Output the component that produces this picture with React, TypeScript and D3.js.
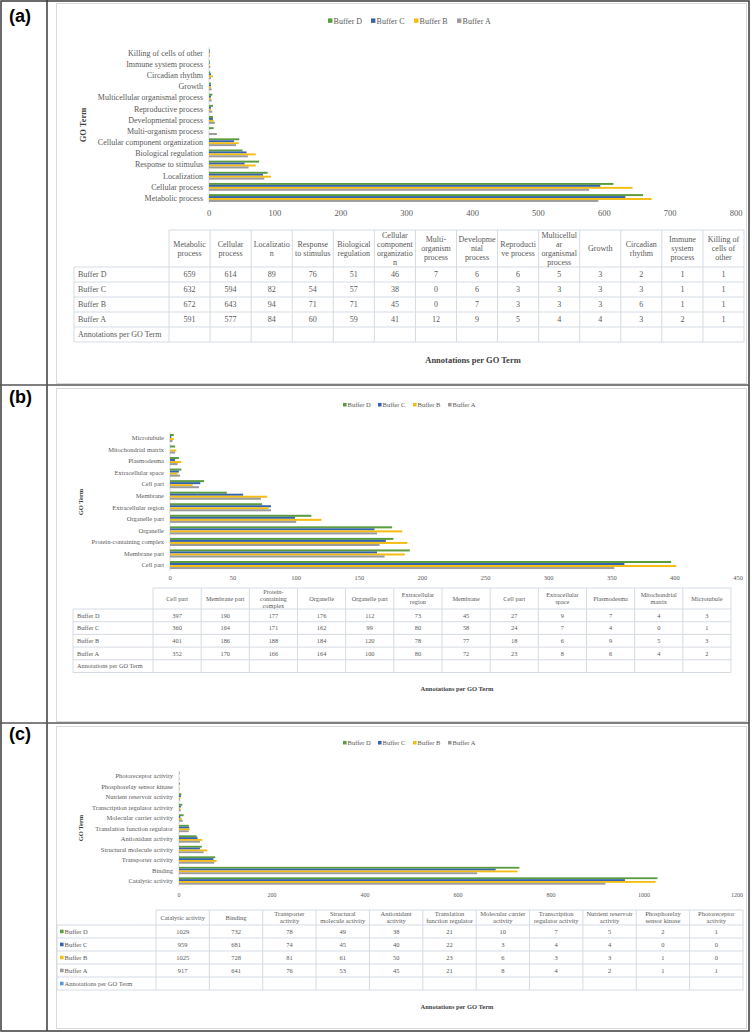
import React from "react";
import * as d3 from "d3";

// ---------- data ----------
const seriesNames = ["Buffer D", "Buffer C", "Buffer B", "Buffer A"];
const seriesColors = ["#5a9c3f", "#3563ad", "#f3bd16", "#9b9b9b"];
const emptyRowLabel = "Annotations per GO Term";
const emptyRowColor = "#5b9bd5";
const axisTitleX = "Annotations per GO Term";
const axisTitleY = "GO Term";
const panelLabels = ["(a)", "(b)", "(c)"];

// (a) Biological process
const bioCategories = [
  "Metabolic process", "Cellular process", "Localization", "Response to stimulus",
  "Biological regulation", "Cellular component organization", "Multi-organism process",
  "Developmental process", "Reproductive process", "Multicellular organismal process",
  "Growth", "Circadian rhythm", "Immune system process", "Killing of cells of other",
];
const bioBufferD = [659, 614, 89, 76, 51, 46, 7, 6, 6, 5, 3, 2, 1, 1];
const bioBufferC = [632, 594, 82, 54, 57, 38, 0, 6, 3, 3, 3, 3, 1, 1];
const bioBufferB = [672, 643, 94, 71, 71, 45, 0, 7, 3, 3, 3, 6, 1, 1];
const bioBufferA = [591, 577, 84, 60, 59, 41, 12, 9, 5, 4, 4, 3, 2, 1];
const bioTicks = [0, 100, 200, 300, 400, 500, 600, 700, 800];

// (b) Cellular component
const cellCategories = [
  "Cell part", "Membrane part", "Protein-containing complex", "Organelle", "Organelle part",
  "Extracellular region", "Membrane", "Cell part", "Extracellular space", "Plasmodesma",
  "Mitochondrial matrix", "Microtubule",
];
const cellBufferD = [397, 190, 177, 176, 112, 73, 45, 27, 9, 7, 4, 3];
const cellBufferC = [360, 164, 171, 162, 99, 80, 58, 24, 7, 4, 0, 1];
const cellBufferB = [401, 186, 188, 184, 120, 78, 77, 18, 6, 9, 5, 3];
const cellBufferA = [352, 170, 166, 164, 100, 80, 72, 23, 8, 6, 4, 2];
const cellTicks = [0, 50, 100, 150, 200, 250, 300, 350, 400, 450];

// (c) Molecular function
const molCategories = [
  "Catalytic activity", "Binding", "Transporter activity", "Structural molecule activity",
  "Antioxidant activity", "Translation function regulator", "Molecular carrier activity",
  "Transcription regulator activity", "Nutrient reservoir activity",
  "Phosphorelay sensor kinase", "Photoreceptor activity",
];
const molBufferD = [1029, 732, 78, 49, 38, 21, 10, 7, 5, 2, 1];
const molBufferC = [959, 681, 74, 45, 40, 22, 3, 4, 4, 0, 0];
const molBufferB = [1025, 728, 81, 61, 50, 23, 6, 3, 3, 1, 0];
const molBufferA = [917, 641, 76, 53, 45, 21, 8, 4, 2, 1, 1];
const molTicks = [0, 200, 400, 600, 800, 1000, 1200];

// ---------- helpers ----------
const SERIF = '"Liberation Serif", "Times New Roman", serif';
const TEXT = "#595959";
const TITLE = "#3f3f3f";
const GRID = "#d5dbe3";

let measureCtx: CanvasRenderingContext2D | null = null;
function textWidth(s: string, size: number) {
  if (!measureCtx) measureCtx = document.createElement("canvas").getContext("2d");
  measureCtx!.font = `${size}px ${SERIF}`;
  return measureCtx!.measureText(s).width;
}

function wrapText(text: string, size: number, maxW: number): string[] {
  const tokens: { t: string; sep: string }[] = [];
  text.split(" ").forEach((word, wi) => {
    const parts = word.split(/(?<=-)/);
    parts.forEach((p, pi) => tokens.push({ t: p, sep: pi === 0 ? (wi === 0 ? "" : " ") : "" }));
  });
  const lines: string[] = [];
  let cur = "";
  for (const tok of tokens) {
    const cand = cur ? cur + tok.sep + tok.t : tok.t;
    if (textWidth(cand, size) <= maxW) {
      cur = cand;
      continue;
    }
    if (cur) lines.push(cur);
    cur = "";
    let rest = tok.t;
    while (textWidth(rest, size) > maxW && rest.length > 1) {
      let n = rest.length - 1;
      while (n > 1 && textWidth(rest.slice(0, n), size) > maxW) n--;
      lines.push(rest.slice(0, n));
      rest = rest.slice(n);
    }
    cur = rest;
  }
  if (cur) lines.push(cur);
  return lines;
}

type Layout = {
  legendX: number; legendY: number; legendStep: number; legendFont: number;
  x0: number; x1: number; bandTop: number; bandBottom: number; catFont: number;
  tickY: number; tickFont: number; yTitleX: number; yTitleY: number; titleFont: number;
  tableLabelX: number; tableX0: number; tableX1: number; headTop: number; headBottom: number;
  rowH: number; tableFont: number; markers: boolean; xTitleX: number; xTitleY: number;
};

type PanelProps = {
  categories: string[];
  series: number[][];
  ticks: number[];
  L: Layout;
};

function Panel({ categories, series, ticks, L }: PanelProps) {
  const n = categories.length;
  const idx = d3.range(n);
  const x = d3.scaleLinear().domain([0, ticks[ticks.length - 1]]).range([L.x0, L.x1]);
  const y = d3
    .scaleBand<number>()
    .domain([...idx].reverse())
    .range([L.bandTop, L.bandBottom])
    .paddingInner(0.3)
    .paddingOuter(0.15);
  const inner = d3.scaleBand<number>().domain(d3.range(series.length)).range([0, y.bandwidth()]);

  const colW = (L.tableX1 - L.tableX0) / n;
  const rowLabels = [...seriesNames, emptyRowLabel];
  const rowColors = [...seriesColors, emptyRowColor];
  const tableBottom = L.headBottom + L.rowH * rowLabels.length;
  const lh = L.tableFont * 1.13;

  return (
    <g>
      {/* legend */}
      {seriesNames.map((s, si) => (
        <g key={s} transform={`translate(${L.legendX + si * L.legendStep},${L.legendY})`}>
          <rect x={0} y={-L.legendFont * 0.32} width={L.legendFont * 0.55} height={L.legendFont * 0.55} fill={seriesColors[si]} />
          <text x={L.legendFont * 0.7} y={0} dy="0.35em" fontSize={L.legendFont} fill={TEXT} fontFamily={SERIF}>
            {s}
          </text>
        </g>
      ))}

      {/* axis line */}
      <line x1={L.x0} x2={L.x0} y1={L.bandTop} y2={L.bandBottom} stroke="#d9d9d9" strokeWidth={1} />

      {/* bars */}
      {idx.map((i) =>
        series.map((vals, si) => (
          <rect
            key={`${i}-${si}`}
            x={x(0)}
            y={(y(i) as number) + (inner(si) as number)}
            width={Math.max(0, x(vals[i]) - x(0))}
            height={inner.bandwidth()}
            fill={seriesColors[si]}
          />
        ))
      )}

      {/* category labels */}
      {idx.map((i) => (
        <text
          key={`c${i}`}
          x={L.x0 - 6}
          y={(y(i) as number) + y.bandwidth() / 2}
          dy="0.35em"
          textAnchor="end"
          fontSize={L.catFont}
          fill={TEXT}
          fontFamily={SERIF}
        >
          {categories[i]}
        </text>
      ))}

      {/* tick labels */}
      {ticks.map((t) => (
        <text key={`t${t}`} x={x(t)} y={L.tickY} textAnchor="middle" fontSize={L.tickFont} fill={TEXT} fontFamily={SERIF}>
          {t}
        </text>
      ))}

      {/* y title */}
      <text
        transform={`translate(${L.yTitleX},${L.yTitleY}) rotate(-90)`}
        textAnchor="middle"
        dy="0.35em"
        fontSize={L.titleFont}
        fontWeight="bold"
        fill={TITLE}
        fontFamily={SERIF}
      >
        {axisTitleY}
      </text>

      {/* table */}
      <g>
        <line x1={L.tableX0} x2={L.tableX1} y1={L.headTop} y2={L.headTop} stroke={GRID} />
        {rowLabels.map((_, ri) => (
          <line
            key={`h${ri}`}
            x1={L.tableLabelX}
            x2={L.tableX1}
            y1={L.headBottom + ri * L.rowH}
            y2={L.headBottom + ri * L.rowH}
            stroke={GRID}
          />
        ))}
        <line x1={L.tableLabelX} x2={L.tableX1} y1={tableBottom} y2={tableBottom} stroke={GRID} />
        <line x1={L.tableLabelX} x2={L.tableLabelX} y1={L.headBottom} y2={tableBottom} stroke={GRID} />
        {d3.range(n + 1).map((c) => (
          <line
            key={`v${c}`}
            x1={L.tableX0 + c * colW}
            x2={L.tableX0 + c * colW}
            y1={L.headTop}
            y2={tableBottom}
            stroke={GRID}
          />
        ))}
        {categories.map((cat, c) => {
          const lines = wrapText(cat, L.tableFont, colW * 0.92);
          const cy = (L.headTop + L.headBottom) / 2;
          const startY = cy - ((lines.length - 1) * lh) / 2;
          return (
            <text
              key={`hd${c}`}
              textAnchor="middle"
              fontSize={L.tableFont}
              fill={TEXT}
              fontFamily={SERIF}
            >
              {lines.map((ln, li) => (
                <tspan key={li} x={L.tableX0 + (c + 0.5) * colW} y={startY + li * lh} dy="0.35em">
                  {ln}
                </tspan>
              ))}
            </text>
          );
        })}
        {rowLabels.map((lab, ri) => {
          const cy = L.headBottom + (ri + 0.5) * L.rowH;
          return (
            <g key={`r${ri}`}>
              {L.markers && (
                <rect
                  x={L.tableLabelX + 3}
                  y={cy - L.tableFont * 0.28}
                  width={L.tableFont * 0.55}
                  height={L.tableFont * 0.55}
                  fill={rowColors[ri]}
                />
              )}
              <text
                x={L.tableLabelX + (L.markers ? 3 + L.tableFont * 0.7 : 4)}
                y={cy}
                dy="0.35em"
                fontSize={L.tableFont}
                fill={TEXT}
                fontFamily={SERIF}
              >
                {lab}
              </text>
              {ri < series.length &&
                series[ri].map((v, c) => (
                  <text
                    key={c}
                    x={L.tableX0 + (c + 0.5) * colW}
                    y={cy}
                    dy="0.35em"
                    textAnchor="middle"
                    fontSize={L.tableFont}
                    fill={TEXT}
                    fontFamily={SERIF}
                  >
                    {v}
                  </text>
                ))}
            </g>
          );
        })}
      </g>

      {/* x title */}
      <text
        x={L.xTitleX}
        y={L.xTitleY}
        textAnchor="middle"
        fontSize={L.titleFont}
        fontWeight="bold"
        fill={TITLE}
        fontFamily={SERIF}
      >
        {axisTitleX}
      </text>
    </g>
  );
}

const layoutA: Layout = {
  legendX: 328, legendY: 21, legendStep: 43, legendFont: 8,
  x0: 209, x1: 736, bandTop: 47.4, bandBottom: 203.6, catFont: 8, tickY: 216, tickFont: 8.5,
  yTitleX: 83, yTitleY: 125, titleFont: 8.5,
  tableLabelX: 74, tableX0: 169, tableX1: 744, headTop: 230, headBottom: 267, rowH: 15, tableFont: 8,
  markers: false, xTitleX: 473, xTitleY: 363,
};
const layoutB: Layout = {
  legendX: 343, legendY: 405, legendStep: 35, legendFont: 6.5,
  x0: 170, x1: 738, bandTop: 432.2, bandBottom: 570.8, catFont: 6.5, tickY: 580, tickFont: 6.5,
  yTitleX: 81, yTitleY: 502, titleFont: 6.5,
  tableLabelX: 73, tableX0: 153, tableX1: 731, headTop: 588, headBottom: 609, rowH: 12.7, tableFont: 6.3,
  markers: false, xTitleX: 457, xTitleY: 691,
};
const layoutC: Layout = {
  legendX: 343, legendY: 743, legendStep: 35, legendFont: 6.5,
  x0: 179, x1: 737, bandTop: 770.75, bandBottom: 886.25, catFont: 6.5, tickY: 897, tickFont: 6,
  yTitleX: 81, yTitleY: 828, titleFont: 6.5,
  tableLabelX: 57, tableX0: 156, tableX1: 743, headTop: 910, headBottom: 925, rowH: 13, tableFont: 6.5,
  markers: true, xTitleX: 457, xTitleY: 1009,
};

export default function App() {
  const W = 752;
  const H = 1033;
  const dividers = [385, 723];
  const labelY = [22, 403, 740];
  const frames = [
    [56, 3, 746, 383],
    [56, 388, 746, 721],
    [56, 726, 746, 1028],
  ];
  return (
    <svg
      width={W}
      height={H}
      style={{ position: "absolute", left: 0, top: 0, background: "#fff" }}
      xmlns="http://www.w3.org/2000/svg"
    >
      <rect x={0} y={0} width={W} height={H} fill="#fff" />
      {frames.map((f, i) => (
        <rect key={i} x={f[0] + 0.5} y={f[1] + 0.5} width={f[2] - f[0]} height={f[3] - f[1]} fill="none" stroke="#d9d9d9" />
      ))}
      <Panel
        categories={bioCategories}
        series={[bioBufferD, bioBufferC, bioBufferB, bioBufferA]}
        ticks={bioTicks}
        L={layoutA}
      />
      <Panel
        categories={cellCategories}
        series={[cellBufferD, cellBufferC, cellBufferB, cellBufferA]}
        ticks={cellTicks}
        L={layoutB}
      />
      <Panel
        categories={molCategories}
        series={[molBufferD, molBufferC, molBufferB, molBufferA]}
        ticks={molTicks}
        L={layoutC}
      />
      {/* outer frame */}
      <rect x={1} y={1} width={748} height={1030} fill="none" stroke="#3a3a3a" strokeWidth={1.5} />
      <line x1={47} x2={47} y1={0} y2={1031} stroke="#3a3a3a" strokeWidth={1.5} />
      {dividers.map((d) => (
        <line key={d} x1={0} x2={749} y1={d} y2={d} stroke="#555" strokeWidth={1.5} />
      ))}
      {panelLabels.map((p, i) => (
        <text
          key={p}
          x={9}
          y={labelY[i]}
          fontSize={18}
          fontWeight="bold"
          fontFamily='"Liberation Sans", Arial, sans-serif'
          fill="#000"
        >
          {p}
        </text>
      ))}
    </svg>
  );
}
